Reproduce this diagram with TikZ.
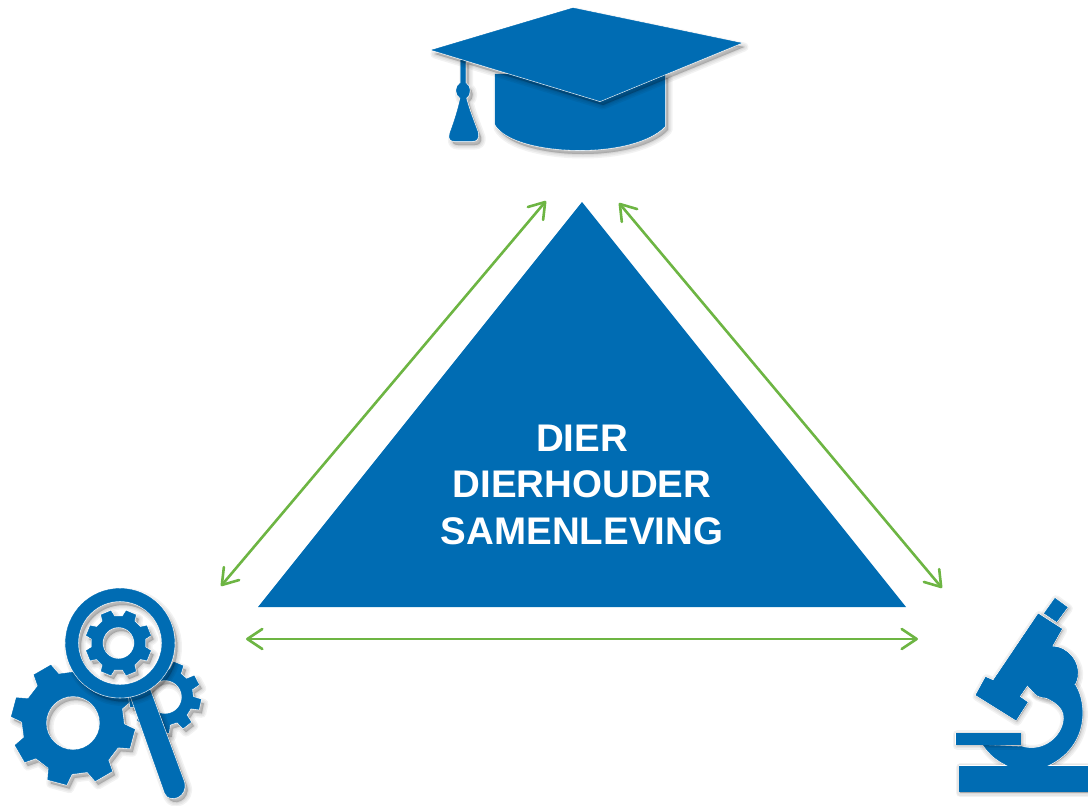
\documentclass[tikz,border=0pt]{standalone}
\usepackage{fontspec}
\setmainfont{Liberation Sans}
\usetikzlibrary{arrows.meta,calc}
\definecolor{dblue}{HTML}{006CB3}
\definecolor{dgreen}{HTML}{6DB543}
\tikzset{
  link/.style={draw=dgreen,line width=2.6pt,{Straight Barb[length=15pt,width=20pt,line width=2.6pt,round]}-{Straight Barb[length=15pt,width=20pt,line width=2.6pt,round]}},
  trilabel/.style={text=white,font=\fontsize{38.5}{46.5}\selectfont\bfseries,align=center},
  bluefill/.style={fill=dblue,even odd rule},
}
% soft shadow of one path
\newcommand\iconshadow[1]{%
  \foreach \w in {9,6,3,1}{\path[draw=black,fill=black,opacity=.05,line width=\w pt,line join=round,shift={(3,4)},even odd rule] #1;}}
% pale rim and blue fill
\newcommand\iconfill[1]{%
  \path[draw=white,line width=1.6pt,line join=round,fill=white,even odd rule] #1;
  \path[draw=dblue,line width=.4pt,bluefill] #1;}
\newcommand\iconpart[1]{\iconshadow{#1}\iconfill{#1}}
\newcommand\gear[7]{%
  % #1 cx #2 cy #3 hole #4 root #5 tip #6 n #7 rot
  \def\gp{(#1,#2) circle[radius=#3]
    \foreach \i in {1,...,#6}{
      \pgfextra{\pgfmathsetmacro\aa{#7+(\i-1)*360/#6}\pgfmathsetmacro\tw{360/#6}}
      \ifnum\i=1 (#1,#2)++(\aa-.2*\tw:#5)\else -- ($(#1,#2)+(\aa-.2*\tw:#5)$)\fi
      -- ($(#1,#2)+(\aa+.2*\tw:#5)$)
      -- ($(#1,#2)+(\aa+.3*\tw:#4)$)
      -- ($(#1,#2)+(\aa+.7*\tw:#4)$)
    } -- cycle}%
  \iconpart{\gp}}
\begin{document}
\begin{tikzpicture}[x=1pt,y=-1pt]
\useasboundingbox (0,0) rectangle (1088,806);
\clip (0,0) rectangle (1088,806);
% triangle and text
\coordinate (apex) at (582,202);
\coordinate (tr) at (906,607);
\coordinate (tl) at (258,607);
\fill[dblue] (apex) -- (tr) -- (tl) -- cycle;
\node[trilabel] (label) at (582,484.5) {DIER\\DIERHOUDER\\SAMENLEVING};
% connectors
\coordinate (a1) at (546,201); \coordinate (a2) at (221,586);
\coordinate (b1) at (619,203); \coordinate (b2) at (942,588);
\coordinate (c1) at (246,639); \coordinate (c2) at (918,639);
\draw[link] (a1) -- (a2);
\draw[link] (b1) -- (b2);
\draw[link] (c1) -- (c2);
% graduation cap
\iconpart{(460.5,60) -- (465.5,60) -- (465.5,83) .. controls (471,86) and (471,95) .. (466,98) .. controls (469,110) and (474,122) .. (478,133) .. controls (479,139) and (476,141) .. (472,141) -- (455,141) .. controls (451,141) and (448,139) .. (450,133) .. controls (454,122) and (458,110) .. (460.5,98) .. controls (455,95) and (455,86) .. (460.5,83) -- cycle}
\iconpart{(495,74) -- (665,74) -- (665,126) .. controls (650,142) and (615,150) .. (580,150) .. controls (545,150) and (505,142) .. (495,124) -- cycle}
\iconpart{(573,8) -- (741,43) -- (600,101) -- (432,50) -- cycle}
% gears and magnifier
\gear{73}{723}{27}{51}{62}{8}{15}
\gear{165}{697}{17}{28}{36}{9}{12}
\iconpart{(131,697) -- (150,690) -- (184,782) .. controls (188,796) and (170,804) .. (165,793) -- cycle}
\path[fill=white] (120,643) circle[radius=45];
\iconpart{(120,643) circle[radius=54.5] (120,643) circle[radius=42]}
\gear{118.5}{643}{16}{27}{33}{8}{22.5}
% microscope
\begin{scope}[shift={(940,590)},x=.3333pt,y=-.3333pt]
\def\mbase{(58,528) -- (450,528) -- (450,605) -- (58,605) -- cycle}
\def\march{(405,285) .. controls (445,350) and (440,480) .. (310,532) -- (215,532) .. controls (175,515) and (150,495) .. (130,465) -- (245,470) .. controls (310,490) and (370,440) .. (372,385) .. controls (374,345) and (330,325) .. (285,310) -- cycle}
\def\mstage{(48,430) -- (240,430) -- (240,462) -- (48,462) -- cycle}
\def\meye{(345,25) -- (382,52) -- (350,95) -- (313,70) -- cycle}
\def\mbody{(295,72) -- (365,117) -- (335,170) .. controls (385,170) and (420,220) .. (412,260) .. controls (405,310) and (340,340) .. (290,315) -- (262,285) -- (238,320) -- (262,337) -- (228,390) -- (108,315) -- (137,262) -- (160,272) -- cycle}
\iconshadow{\mbase}\iconshadow{\march}\iconshadow{\meye}\iconshadow{\mbody}
\iconfill{\mbase}\iconfill{\meye}\iconfill{\mbody}\iconfill{\march}
\path[bluefill] \mbody;
\path[bluefill] \mbase;
\iconpart{\mstage}
\end{scope}
\end{tikzpicture}
\end{document}
